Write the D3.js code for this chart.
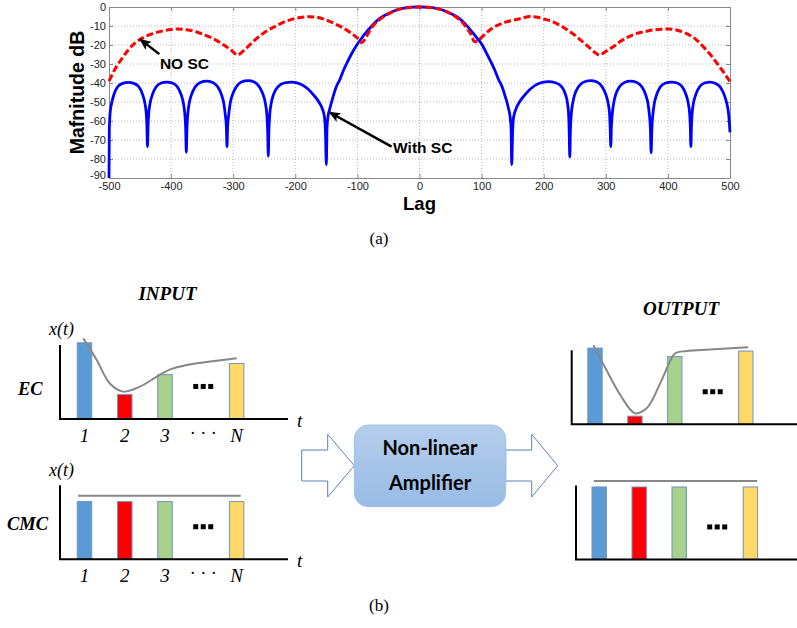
<!DOCTYPE html>
<html>
<head>
<meta charset="utf-8">
<script src="https://cdn.jsdelivr.net/npm/d3@7"></script>
<style>
body { margin: 0; background: #fff; }
svg { display: block; }
</style>
</head>
<body>
<div id="chart"></div>
<script>
// ---- (a) magnitude (dB) versus lag ----
const lagTicks = [-500, -400, -300, -200, -100, 0, 100, 200, 300, 400, 500];
const dbTicks = [0, -10, -20, -30, -40, -50, -60, -70, -80, -90];

// [lag, dB]
const withSC = [
  [-500,-90],[-499.5,-65],[-499,-60],[-498,-55],[-496,-51],[-492,-46],[-486,-42],[-478,-40.2],[-469,-39.7],
  [-460,-40.2],[-452,-42],[-446,-46],[-442,-51],[-440,-56],[-439,-62],[-438,-73.5],[-437,-62],[-436,-56],
  [-434,-51],[-430,-46],[-424,-42],[-416,-40],[-407,-39.5],[-398,-40],[-390,-42],[-384,-46],[-380,-51],
  [-378,-56],[-376.5,-64],[-375.5,-76.5],[-374.5,-64],[-373,-56],[-371,-51],[-367,-46],[-361,-42],
  [-353,-39.7],[-343,-39],[-333,-39.7],[-325,-42],[-319,-46],[-315,-51],[-313,-56],[-311,-63],[-310,-73.5],
  [-309,-63],[-307,-56],[-305,-51],[-301,-46],[-295,-42],[-287,-39.5],[-276,-38.8],[-266,-39.5],[-258,-42],
  [-252,-46],[-248,-51],[-246,-56],[-244.5,-65],[-243.5,-78.5],[-242.5,-65],[-241,-56],[-239,-51],[-235,-46],
  [-228,-42],[-218,-40],[-205,-39.5],[-192,-40.5],[-180,-43],[-170,-46.5],[-162,-50],[-156,-54],[-153,-58],
  [-151.5,-65],[-150,-83],[-149,-64],[-147.5,-58],[-144,-53],[-139,-47],[-134,-42],[-128,-38],[-122,-33],
  [-117,-29.5],[-110,-25],[-101,-20],[-93,-16.3],[-85,-13],[-75,-9.3],[-64,-6],[-50,-3.4],[-37,-1.6],
  [-25,-0.6],[-12,-0.1],[0,0],[12,-0.1],[25,-0.6],[37,-1.6],[50,-3.4],[64,-6],[75,-9.4],[85,-13.2],
  [93,-16.5],[100,-19.5],[109,-25],[116,-29.5],[121,-33],[127,-38],[133,-42],[138,-47],[143,-53],
  [146,-58],[147.5,-64],[148.5,-83],[150,-65],[151.5,-58],[155,-54],[161,-50],[169,-46.5],[179,-43],
  [192,-40.3],[207,-39.3],[220,-40],[229,-42],[235,-46],[238.5,-51],[240,-56],[241,-65],[242,-79],
  [243,-65],[244.5,-56],[246.5,-51],[250,-46],[256,-42],[264,-39.6],[275,-38.8],[286,-39.5],[294,-42],
  [300,-46],[304,-51],[306,-56],[307,-63],[308,-73.5],[309,-63],[310.5,-56],[312.5,-51],[316,-46],
  [322,-42],[330,-39.7],[340,-39],[350,-39.7],[358,-42],[364,-46],[368,-51],[370,-56],[371.8,-64],
  [373,-76.7],[374.2,-64],[376,-56],[378,-51],[382,-46],[388,-42],[396,-40],[406,-39.5],[415,-40],
  [423,-42],[429,-46],[433,-51],[435,-56],[436,-62],[437,-73.5],[438,-62],[439,-56],[441,-51],[445,-46],
  [451,-42],[459,-40],[468,-39.5],[477,-40.3],[485,-42.5],[491,-46.5],[495,-51],[498,-57],[500,-66]
];

const noSC = [
  [-500,-39],[-490,-32.5],[-480,-27.5],[-470,-23],[-460,-19.5],[-447,-16.5],[-430,-14],[-415,-12.7],
  [-400,-11.9],[-390,-11.6],[-375,-12],[-360,-13],[-345,-14.8],[-330,-17],[-315,-20],[-303,-22.8],
  [-293,-25.3],[-285,-23.5],[-275,-20.5],[-262,-16.5],[-248,-13],[-230,-9.8],[-215,-7.5],[-200,-6],
  [-185,-5.3],[-177,-5.1],[-165,-5.4],[-150,-6.8],[-135,-9],[-123,-11],[-110,-13.8],[-100,-16.3],
  [-93,-18.8],[-88,-17],[-82,-13.5],[-75,-10],[-68,-7.6],[-60,-5.6],[-50,-3.6],[-40,-2],[-30,-1],
  [-20,-0.4],[-10,-0.1],[0,0],[10,-0.1],[20,-0.4],[30,-1],[40,-2],[50,-3.5],[60,-5.5],[68,-7.8],
  [75,-10.5],[82,-14],[89,-18.3],[95,-17.5],[100,-16],[110,-13],[118,-11],[130,-9],[140,-7.8],
  [150,-7],[162,-6.2],[178,-5],[190,-5.4],[200,-6.3],[215,-7.8],[226,-9.6],[240,-12.5],[253,-15.6],
  [265,-19],[275,-21.8],[282,-23.8],[290,-25.3],[298,-23.8],[307,-22],[315,-20.3],[323,-18.2],
  [336,-15.8],[350,-13.9],[365,-12.8],[376,-12.1],[390,-11.7],[400,-11.6],[415,-12.2],[430,-14],
  [445,-17],[457,-20.9],[467,-24.5],[473,-27],[481,-30.5],[489,-34],[500,-39.3]
];

// arrow tail, arrow tip, text anchor (lag, dB)
const notes = [
  { label: "NO SC", tail: [-419, -24.8], tip: [-450, -17], at: [-418, -32.6] },
  { label: "With SC", tail: [-45, -73.5], tip: [-145, -55.4], at: [-42.5, -76.8] }
];

// ---- (b) EC / CMC bars through a non-linear amplifier ----
const slots = [1, 2, 3, 4.78];
const slotLabels = ["1", "2", "3", "N"];
const barColors = ["#5b9bd5", "#ff0000", "#a9d18e", "#ffd966"];
const ecIn = [1.03, 0.33, 0.60, 0.75];
const ecOut = [1.03, 0.11, 0.915, 0.99];
const cmcIn = [0.78, 0.78, 0.78, 0.78];
const cmcOut = [0.98, 0.98, 0.98, 0.98];
const ecInEnvelope = [[0.97,1.09],[1.30,0.80],[1.63,0.48],[1.96,0.37],[2.39,0.44],[2.79,0.57],
  [3.13,0.67],[3.54,0.73],[4.04,0.77],[4.78,0.82]];
const ecOutEnvelope = [[0.96,1.07],[1.29,0.73],[1.63,0.40],[2.0,0.15],[2.30,0.22],[2.63,0.55],
  [2.88,0.85],[3.01,0.96],[3.30,0.99],[3.88,1.01],[4.84,1.04]];
const cmcInEnvelope = [[0.84,0.86],[4.88,0.86]];
const cmcOutEnvelope = [[0.87,1.06],[4.95,1.06]];

const W = 797, H = 628;
const svg = d3.select("#chart").append("svg")
  .attr("width", W).attr("height", H)
  .style("background", "#fff");

const sans = "'Liberation Sans', Arial, sans-serif";
const serif = "'Liberation Serif', 'Times New Roman', serif";

// ---------- (a) ----------
const x = d3.scaleLinear().domain([-500, 500]).range([109, 730]);
const y = d3.scaleLinear().domain([-90, 0]).range([178, 7]);

const grid = svg.append("g").attr("stroke", "#b8b8b8").attr("stroke-width", 1)
  .attr("stroke-dasharray", "1,2");
grid.selectAll(".vg").data(lagTicks.slice(1, -1)).join("line")
  .attr("x1", d => x(d)).attr("x2", d => x(d)).attr("y1", y(-90)).attr("y2", y(0));
grid.selectAll(".hg").data(dbTicks.slice(1, -1)).join("line")
  .attr("x1", x(-500)).attr("x2", x(500)).attr("y1", d => y(d)).attr("y2", d => y(d));

function styleAxis(g) {
  g.select(".domain").attr("stroke", "#8a8a8a");
  g.selectAll(".tick line").attr("stroke", "#8a8a8a");
  g.selectAll(".tick text").attr("fill", "#222").style("font-family", sans).style("font-size", "11px");
}

svg.append("g").attr("transform", `translate(0,${y(-90)})`)
  .call(d3.axisBottom(x).tickValues(lagTicks).tickFormat(d => String(d)).tickSizeInner(-4).tickSizeOuter(0).tickPadding(4))
  .call(styleAxis);
svg.append("g").attr("transform", `translate(0,${y(0)})`)
  .call(d3.axisTop(x).tickValues(lagTicks).tickFormat("").tickSizeInner(-4).tickSizeOuter(0))
  .call(styleAxis);
svg.append("g").attr("transform", `translate(${x(-500)},0)`)
  .call(d3.axisLeft(y).tickValues(dbTicks).tickFormat(d => String(d)).tickSizeInner(-4).tickSizeOuter(0).tickPadding(3))
  .call(styleAxis)
  .call(g => g.selectAll(".tick text").filter(d => d === -90).attr("dy", "0.05em"));
svg.append("g").attr("transform", `translate(${x(500)},0)`)
  .call(d3.axisRight(y).tickValues(dbTicks).tickFormat("").tickSizeInner(-4).tickSizeOuter(0))
  .call(styleAxis);

const line = d3.line().x(d => x(d[0])).y(d => y(d[1])).curve(d3.curveMonotoneX);

svg.append("path").datum(withSC)
  .attr("d", line).attr("fill", "none").attr("stroke", "#0000ff")
  .attr("stroke-width", 2.8).attr("stroke-linejoin", "round");
svg.append("path").datum(noSC)
  .attr("d", line).attr("fill", "none").attr("stroke", "#ff0000")
  .attr("stroke-width", 3).attr("stroke-dasharray", "7,3");

svg.append("defs").append("marker")
  .attr("id", "head").attr("viewBox", "0 0 12 10")
  .attr("markerWidth", 12).attr("markerHeight", 10)
  .attr("markerUnits", "userSpaceOnUse")
  .attr("refX", 11).attr("refY", 5).attr("orient", "auto")
  .append("path").attr("d", "M0,0L12,5L0,10L3,5Z").attr("fill", "#000");

const noteG = svg.append("g");
noteG.selectAll("line").data(notes).join("line")
  .attr("x1", d => x(d.tail[0])).attr("y1", d => y(d.tail[1]))
  .attr("x2", d => x(d.tip[0])).attr("y2", d => y(d.tip[1]))
  .attr("stroke", "#000").attr("stroke-width", 2.5)
  .attr("marker-end", "url(#head)");
noteG.selectAll("text").data(notes).join("text")
  .attr("x", d => x(d.at[0])).attr("y", d => y(d.at[1]))
  .style("font-family", sans).style("font-weight", "bold").style("font-size", "15.5px")
  .text(d => d.label);

svg.append("text")
  .attr("transform", `translate(84,${y(-45)}) rotate(-90)`)
  .attr("text-anchor", "middle")
  .style("font-family", sans).style("font-weight", "bold").style("font-size", "19.5px")
  .text("Mafnitude dB");
svg.append("text")
  .attr("x", x(0)).attr("y", 210).attr("text-anchor", "middle")
  .style("font-family", sans).style("font-weight", "bold").style("font-size", "18.5px")
  .text("Lag");
svg.append("text")
  .attr("x", 379).attr("y", 244).attr("text-anchor", "middle")
  .style("font-family", serif).style("font-size", "17px")
  .text("(a)");

// ---------- (b) ----------
const panels = [
  { values: ecIn, env: ecInEnvelope, left: 60, right: 288, base: 419, x1: 84.5, step: 40.25, labels: true, tag: "EC", tagX: 18, tagY: 395, xt: 335 },
  { values: cmcIn, env: cmcInEnvelope, left: 60, right: 288, base: 559.3, x1: 84.5, step: 40.25, labels: true, tag: "CMC", tagX: 7, tagY: 530, xt: 476 },
  { values: ecOut, env: ecOutEnvelope, left: 571.7, right: 797, base: 424.3, x1: 595, step: 39.9, labels: false },
  { values: cmcOut, env: cmcOutEnvelope, left: 576, right: 797, base: 559.5, x1: 599.2, step: 40, labels: false }
];

panels.forEach(p => {
  const g = svg.append("g");
  const sx = d3.scaleLinear().domain([1, 2]).range([p.x1, p.x1 + p.step]);
  const sy = d3.scaleLinear().domain([0, 1]).range([p.base, p.base - 74]);
  const bw = sx(1.18) - sx(0.82);

  g.selectAll("rect.bar").data(p.values).join("rect").attr("class", "bar")
    .attr("x", (d, i) => sx(slots[i]) - bw / 2).attr("y", d => sy(d))
    .attr("width", bw).attr("height", d => sy(0) - sy(d))
    .attr("fill", (d, i) => barColors[i])
    .attr("stroke", "#6f93c2").attr("stroke-width", 1);

  g.append("path")
    .attr("d", `M${p.left},${sy(1)}V${p.base}H${p.right}`)
    .attr("fill", "none").attr("stroke", "#000").attr("stroke-width", 2);

  g.append("path").datum(p.env)
    .attr("d", d3.line().x(d => sx(d[0])).y(d => sy(d[1])).curve(d3.curveCatmullRom))
    .attr("fill", "none").attr("stroke", "#878787").attr("stroke-width", 2);

  // ellipsis squares
  g.selectAll("rect.dot").data([-7.5, 0, 7.5]).join("rect").attr("class", "dot")
    .attr("x", d => sx(3.95) + d - 2.5).attr("y", sy(0.44) - 2.5)
    .attr("width", 5).attr("height", 5).attr("fill", "#000");

  if (p.labels) {
    g.selectAll("text.slot").data(slotLabels).join("text").attr("class", "slot")
      .attr("x", (d, i) => sx(slots[i])).attr("y", p.base + 23)
      .attr("text-anchor", "middle")
      .style("font-family", serif).style("font-style", "italic").style("font-size", "19px")
      .text(d => d);
    g.append("text").attr("x", sx(3.95)).attr("y", p.base + 20).attr("text-anchor", "middle")
      .style("font-family", serif).style("font-size", "18px").text("· · ·");
    g.append("text").attr("x", 297).attr("y", p.base + 8)
      .style("font-family", serif).style("font-style", "italic").style("font-size", "19px").text("t");
    g.append("text").attr("x", 49).attr("y", p.xt)
      .style("font-family", serif).style("font-style", "italic").style("font-size", "18px").text("x(t)");
    g.append("text").attr("x", p.tagX).attr("y", p.tagY)
      .style("font-family", serif).style("font-style", "italic").style("font-weight", "bold")
      .style("font-size", "18.5px").text(p.tag);
  }
});

svg.append("text").attr("x", 167.5).attr("y", 300).attr("text-anchor", "middle")
  .style("font-family", serif).style("font-style", "italic").style("font-weight", "bold")
  .style("font-size", "19px").text("INPUT");
svg.append("text").attr("x", 681).attr("y", 315).attr("text-anchor", "middle")
  .style("font-family", serif).style("font-style", "italic").style("font-weight", "bold")
  .style("font-size", "19px").text("OUTPUT");

// block arrows, then the amplifier box on top
const blockArrow = (x0, x1, x2) =>
  `M${x0},450H${x1}V434.3L${x2},465.7L${x1},497V481H${x0}Z`;
svg.selectAll("path.barrow").data([[301.7, 327.7, 354.3], [505.7, 531.7, 557.7]]).join("path")
  .attr("class", "barrow")
  .attr("d", d => blockArrow(d[0], d[1], d[2]))
  .attr("fill", "#fff").attr("stroke", "#5b80b4").attr("stroke-width", 1);

const grad = svg.select("defs").append("linearGradient")
  .attr("id", "boxFill").attr("x1", 0).attr("y1", 0).attr("x2", 0).attr("y2", 1);
grad.append("stop").attr("offset", 0).attr("stop-color", "#b5cdeb");
grad.append("stop").attr("offset", 1).attr("stop-color", "#99bbe5");

svg.append("rect").attr("x", 354.3).attr("y", 425).attr("width", 151.4).attr("height", 81.7)
  .attr("rx", 14).attr("fill", "url(#boxFill)").attr("stroke", "#9fc1ea").attr("stroke-width", 1);
svg.selectAll("text.amp").data(["Non-linear", "Amplifier"]).join("text").attr("class", "amp")
  .attr("x", 430).attr("y", (d, i) => 455 + i * 35).attr("text-anchor", "middle")
  .style("font-family", "Lato, 'Open Sans', sans-serif").style("font-weight", "bold")
  .style("font-size", "20px").attr("fill", "#000").text(d => d);

svg.append("text")
  .attr("x", 379).attr("y", 611).attr("text-anchor", "middle")
  .style("font-family", serif).style("font-size", "17px")
  .text("(b)");
</script>
</body>
</html>
